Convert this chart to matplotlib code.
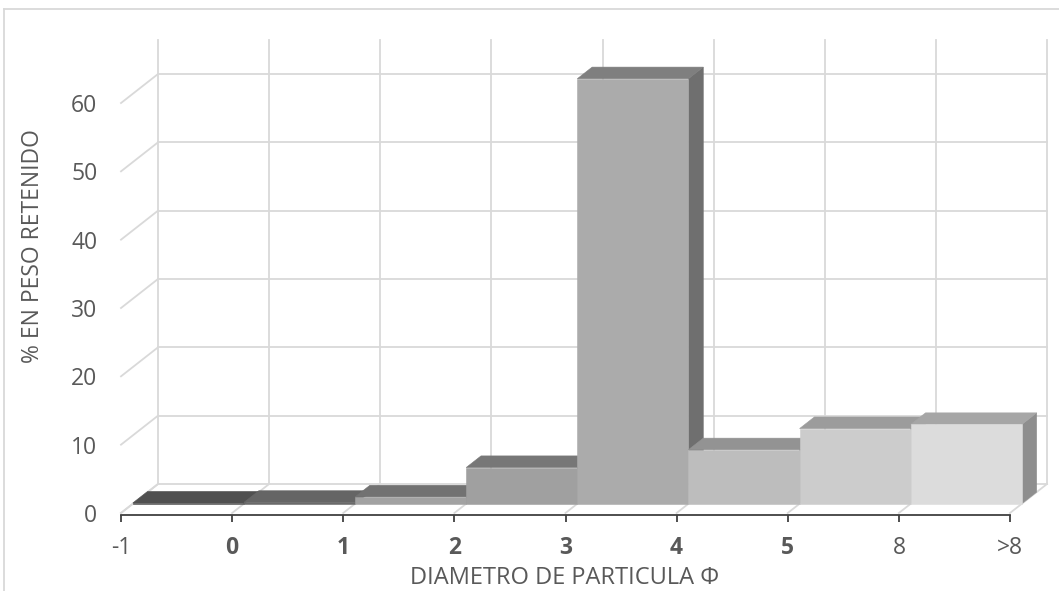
import matplotlib
matplotlib.use("Agg")
import matplotlib.pyplot as plt
from matplotlib.patches import Polygon
from matplotlib.lines import Line2D

# ---- data ----
categories = ['-1', '0', '1', '2', '3', '4', '5', '8', '>8']
pct_retained = [0.1, 0.2, 1.0, 5.3, 62.2, 7.9, 11.0, 11.6]
front_colors = ['#545454', '#6a6a6a', '#a2a2a2', '#a0a0a0', '#ababab', '#bdbdbd', '#cccccc', '#dcdcdc']
top_colors = ['#505050', '#656565', '#727272', '#777777', '#7f7f7f', '#939393', '#9c9c9c', '#a6a6a6']
side_colors = ['#474747', '#5a5a5a', '#666666', '#6a6a6a', '#6f6f6f', '#7f7f7f', '#878787', '#8e8e8e']
yticks = [0, 10, 20, 30, 40, 50, 60]
bold_labels = {'0', '1', '2', '3', '4', '5'}

W, H = 1059, 591
fig = plt.figure(figsize=(W / 100, H / 100), dpi=100)
plt.rcParams['font.family'] = ['Open Sans', 'DejaVu Sans']
FS = 16.5

# front plane pixel geometry
x0_px, x8_px = 121, 1010
y0_px, ytop_px = 513, 513 - 65 * 6.833
ax = fig.add_axes([x0_px / W, (H - y0_px) / H, (x8_px - x0_px) / W, (y0_px - ytop_px) / H])
ax.set_xlim(0, 8)
ax.set_ylim(0, 65)
ax.patch.set_alpha(0)

# depth offsets (in data units) for the oblique 3D look
DX = 37 / ((x8_px - x0_px) / 8)
DY = 29 / 6.833
wall_top = 65
d_front, d_back = 0.32, 0.72

def P(x, y, d):
    return (x + d * DX, y + d * DY)

grid_c = '#d9d9d9'
glw = 1.3
n = len(categories)
# back wall horizontal gridlines + left wall diagonals
for v in yticks:
    ax.add_line(Line2D(*zip(P(0, v, 1), P(n - 1, v, 1)), color=grid_c, lw=glw, clip_on=False, zorder=1))
    ax.add_line(Line2D(*zip(P(0, v, 0), P(0, v, 1)), color=grid_c, lw=glw, clip_on=False, zorder=1))
# back wall verticals + floor diagonals
for i in range(n):
    ax.add_line(Line2D(*zip(P(i, 0, 1), P(i, wall_top, 1)), color=grid_c, lw=glw, clip_on=False, zorder=1))
    ax.add_line(Line2D(*zip(P(i, 0, 0), P(i, 0, 1)), color=grid_c, lw=glw, clip_on=False, zorder=1))

# bars
z = 2
for i, v in enumerate(pct_retained):
    side = [P(i + 1, 0, d_front), P(i + 1, v, d_front), P(i + 1, v, d_back), P(i + 1, 0, d_back)]
    top = [P(i, v, d_front), P(i + 1, v, d_front), P(i + 1, v, d_back), P(i, v, d_back)]
    front = [P(i, 0, d_front), P(i + 1, 0, d_front), P(i + 1, v, d_front), P(i, v, d_front)]
    for poly, c in ((side, side_colors[i]), (top, top_colors[i]), (front, front_colors[i])):
        ax.add_patch(Polygon(poly, closed=True, facecolor=c, edgecolor=c, lw=0.4, clip_on=False, zorder=z))
        z += 1

# axes styling
for s in ('left', 'top', 'right'):
    ax.spines[s].set_visible(False)
ax.spines['bottom'].set_position(('outward', 1.5))
ax.spines['bottom'].set_color('#404040')
ax.spines['bottom'].set_linewidth(1.3)
ax.spines['bottom'].set_zorder(50)

txt_c = '#595959'
ax.set_xticks(range(n))
ax.set_xticklabels(categories)
for lab in ax.get_xticklabels():
    if lab.get_text() in bold_labels:
        lab.set_fontweight('bold')
ax.tick_params(axis='x', direction='out', length=5, width=1.3, color='#404040',
               labelsize=FS, labelcolor=txt_c, pad=10)
ax.set_yticks(yticks)
ax.tick_params(axis='y', length=0, labelsize=FS, labelcolor=txt_c, pad=17)

fig.text(565 / W, 1 - 578 / H, 'DIAMETRO DE PARTICULA Φ', ha='center', va='center',
         fontsize=FS + 0.5, color=txt_c)
fig.text(33 / W, 1 - 246 / H, '% EN PESO RETENIDO', ha='center', va='center',
         rotation=90, fontsize=FS, color=txt_c)

# chart border (light grey)
fig.add_artist(Line2D([4 / W, 4 / W], [0, 1 - 9 / H], transform=fig.transFigure, color=grid_c, lw=1.3))
fig.add_artist(Line2D([4 / W, 1], [1 - 9 / H, 1 - 9 / H], transform=fig.transFigure, color=grid_c, lw=1.3))

fig.savefig('out.png', dpi=100, facecolor='white')
